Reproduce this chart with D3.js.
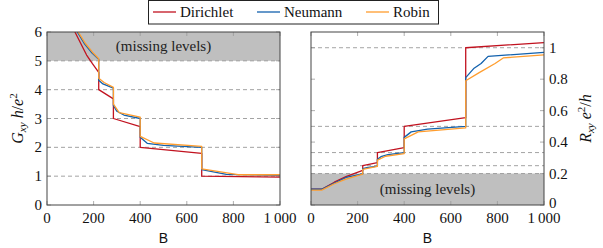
<!DOCTYPE html>
<html><head><meta charset="utf-8">
<script src="https://cdn.jsdelivr.net/npm/d3@7"></script>
<style>body{margin:0;background:#fff}svg{display:block}
.sf{font-family:"Times New Roman",Times,"Liberation Serif",Tinos,"DejaVu Serif","Noto Serif",serif}
.ss{font-family:"Liberation Sans",Arial,Helvetica,sans-serif}
</style>
</head><body>
<svg id="c" width="603" height="248"></svg>
<script>
const series = ["Dirichlet", "Neumann", "Robin"];
const colors = ["#c1121f", "#1261ad", "#ff9d2e"];
const xTicks = [0, 200, 400, 600, 800, 1000];
const gTicks = [0, 1, 2, 3, 4, 5, 6];
const rTicks = [0, 0.2, 0.4, 0.6, 0.8, 1];
const gDashed = [1, 2, 3, 4, 5];
const rDashed = [0.2, 0.25, 1/3, 0.5, 1];

const gDirichlet = [[0,10],[46,10],[80,7.7],[100,6.8],[120,6.0],[145,5.6],[170,5.2],[195,4.9],[222,4.6],[222,4.0],[285,3.68],[285,3.0],[400,2.72],[400,2.0],[664,1.79],[664,1.0],[1000,0.97]];
const gNeumann = [[0,10],[46,10],[80,7.9],[100,7.0],[130,6.0],[160,5.6],[190,5.3],[222,5.05],[222,4.33],[240,4.2],[285,4.05],[285,3.45],[300,3.25],[330,3.12],[400,3.0],[400,2.35],[430,2.14],[500,2.07],[664,2.0],[664,1.23],[770,1.06],[1000,1.03]];
const gRobin = [[0,10],[46,10],[80,8],[100,7.1],[134,6.0],[165,5.6],[195,5.3],[222,5.07],[222,4.4],[245,4.25],[285,4.08],[285,3.5],[310,3.2],[400,3.05],[400,2.38],[460,2.15],[664,2.03],[664,1.25],[820,1.05],[1000,1.05]];

const rDirichlet = [[0,0.1],[46,0.1],[100,0.145],[150,0.18],[222,0.22],[222,0.25],[285,0.27],[285,0.333],[400,0.365],[400,0.5],[664,0.555],[664,1.0],[1000,1.033]];
const rNeumann = [[0,0.1],[46,0.1],[100,0.14],[150,0.175],[222,0.198],[222,0.232],[240,0.238],[285,0.247],[285,0.29],[300,0.307],[330,0.32],[400,0.333],[400,0.43],[430,0.465],[500,0.483],[664,0.5],[664,0.81],[700,0.87],[730,0.9],[760,0.945],[1000,0.97]];
const rRobin = [[0,0.095],[46,0.095],[100,0.135],[150,0.165],[222,0.197],[222,0.227],[285,0.245],[285,0.285],[320,0.31],[400,0.327],[400,0.42],[460,0.465],[664,0.49],[664,0.79],[720,0.84],[790,0.9],[825,0.935],[1000,0.955]];

const svg = d3.select("#c");
const yTop = 32, yBot = 205;

function panel(cfg) {
  const x = d3.scaleLinear().domain([0, 1000]).range([cfg.x0, cfg.x1]);
  const y = d3.scaleLinear().domain(cfg.ydom).range([yBot, yTop]);
  const g = svg.append("g");
  const id = "clip" + cfg.name;
  svg.append("clipPath").attr("id", id).append("rect")
    .attr("x", cfg.x0).attr("y", yTop).attr("width", cfg.x1 - cfg.x0).attr("height", yBot - yTop);
  g.append("rect").attr("x", cfg.x0).attr("width", cfg.x1 - cfg.x0)
    .attr("y", y(cfg.gray[1])).attr("height", y(cfg.gray[0]) - y(cfg.gray[1]))
    .attr("fill", "#bfbfbf");
  g.append("text").attr("class", "sf").attr("x", x(cfg.grayTextX)).attr("y", (y(cfg.gray[0]) + y(cfg.gray[1])) / 2 + 5)
    .attr("text-anchor", "middle").attr("font-size", 15).attr("fill", "#222")
    .text("(missing levels)");
  g.selectAll(".dash").data(cfg.dashed).enter().append("line")
    .attr("x1", cfg.x0).attr("x2", cfg.x1).attr("y1", d => y(d)).attr("y2", d => y(d))
    .attr("stroke", "#999").attr("stroke-width", 0.9).attr("stroke-dasharray", "4,3");
  const tl = 4;
  xTicks.forEach(t => {
    g.append("line").attr("x1", x(t)).attr("x2", x(t)).attr("y1", yBot).attr("y2", yBot - tl).attr("stroke", "#999").attr("stroke-width", 0.8);
    g.append("line").attr("x1", x(t)).attr("x2", x(t)).attr("y1", yTop).attr("y2", yTop + tl).attr("stroke", "#999").attr("stroke-width", 0.8);
  });
  cfg.yticks.forEach(t => {
    g.append("line").attr("x1", cfg.x0).attr("x2", cfg.x0 + tl).attr("y1", y(t)).attr("y2", y(t)).attr("stroke", "#999").attr("stroke-width", 0.8);
    g.append("line").attr("x1", cfg.x1).attr("x2", cfg.x1 - tl).attr("y1", y(t)).attr("y2", y(t)).attr("stroke", "#999").attr("stroke-width", 0.8);
  });
  const line = d3.line().x(d => x(d[0])).y(d => y(d[1]));
  const lg = g.append("g").attr("clip-path", `url(#${id})`);
  cfg.data.forEach((d, i) => {
    lg.append("path").attr("d", line(d)).attr("fill", "none").attr("stroke", colors[i]).attr("stroke-width", 1.3).attr("stroke-linejoin", "round");
  });
  g.append("rect").attr("x", cfg.x0).attr("y", yTop).attr("width", cfg.x1 - cfg.x0).attr("height", yBot - yTop)
    .attr("fill", "none").attr("stroke", "#444").attr("stroke-width", 1);
  xTicks.forEach(t => {
    g.append("text").attr("class", "sf").attr("x", x(t)).attr("y", yBot + 18).attr("text-anchor", "middle")
      .attr("font-size", 15).attr("fill", "#111")
      .text(t === 1000 ? "1\u2009000" : t);
  });
  cfg.yticks.forEach(t => {
    const lab = cfg.right ? (t === 0 ? "0" : t === 1 ? "1" : d3.format(".1f")(t)) : t;
    g.append("text").attr("class", "sf").attr("x", cfg.right ? cfg.x1 + 5 : cfg.x0 - 5).attr("y", y(t) + 5 - (cfg.right && t === 0 ? 2 : 0))
      .attr("text-anchor", cfg.right ? "start" : "end")
      .attr("font-size", 15).attr("fill", "#111").text(lab);
  });
  g.append("text").attr("class", "ss").attr("x", (cfg.x0 + cfg.x1) / 2).attr("y", 243).attr("text-anchor", "middle")
    .attr("font-size", 14).attr("fill", "#111").text("B");
  const yl = g.append("text").attr("class", "sf").attr("transform", `translate(${cfg.labelX},${(yTop + yBot) / 2}) rotate(-90)`)
    .attr("text-anchor", "middle").attr("font-size", 16).attr("fill", "#111").attr("font-style", "italic");
  cfg.label(yl);
}

panel({
  name: "L", x0: 47, x1: 280, ydom: [0, 6], gray: [5, 6], grayTextX: 500, dashed: gDashed, yticks: gTicks,
  data: [gDirichlet, gNeumann, gRobin], right: false, labelX: 23,
  label: t => {
    t.append("tspan").text("G");
    t.append("tspan").attr("font-size", 11).attr("dy", 3).text("xy");
    t.append("tspan").attr("dy", -3).text(" h");
    t.append("tspan").attr("font-style", "normal").text("/");
    t.append("tspan").text("e");
    t.append("tspan").attr("font-size", 11).attr("font-style", "normal").attr("dy", -6).text("2");
  }
});
panel({
  name: "R", x0: 311, x1: 544, ydom: [0, 1.1], gray: [0, 0.2], grayTextX: 500, dashed: rDashed, yticks: rTicks,
  data: [rDirichlet, rNeumann, rRobin], right: true, labelX: 591,
  label: t => {
    t.append("tspan").text("R");
    t.append("tspan").attr("font-size", 11).attr("dy", 3).text("xy");
    t.append("tspan").attr("dy", -3).text(" e");
    t.append("tspan").attr("font-size", 11).attr("font-style", "normal").attr("dy", -6).text("2");
    t.append("tspan").attr("font-style", "normal").attr("dy", 6).text("/");
    t.append("tspan").text("h");
  }
});

const leg = svg.append("g");
leg.append("rect").attr("x", 148.5).attr("y", 0.5).attr("width", 290).attr("height", 23.5)
  .attr("fill", "#fff").attr("stroke", "#222").attr("stroke-width", 1);
const legX = [153, 257, 366];
series.forEach((s, i) => {
  leg.append("line").attr("x1", legX[i]).attr("x2", legX[i] + 23).attr("y1", 12).attr("y2", 12)
    .attr("stroke", colors[i]).attr("stroke-width", 1.3);
  leg.append("text").attr("class", "sf").attr("x", legX[i] + 27).attr("y", 17).attr("font-size", 15)
    .attr("fill", "#111").text(s);
});
</script>
</body></html>
